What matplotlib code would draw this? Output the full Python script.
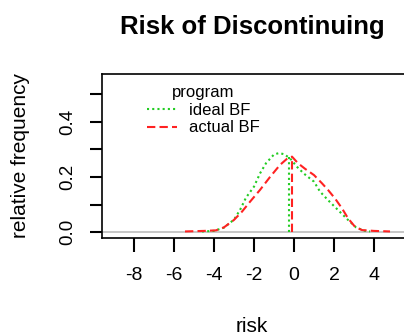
import numpy as np
import matplotlib
matplotlib.use("Agg")
import matplotlib.pyplot as plt

plt.rcParams['font.family'] = ['Liberation Sans', 'DejaVu Sans']
plt.rcParams['axes.unicode_minus'] = False

# frequency polygons
ideal_x = [-4.6, -4.0, -3.5, -3.0, -2.7, -2.4, -2.0, -1.7, -1.4, -1.0, -0.75, -0.5,
           -0.2, 0.15, 0.5, 1.0, 1.3, 1.7, 2.2, 2.7, 3.1, 3.5, 3.8]
ideal_y = [0.002, 0.004, 0.016, 0.045, 0.080, 0.125, 0.165, 0.213, 0.250, 0.282, 0.287, 0.283,
           0.268, 0.237, 0.212, 0.183, 0.147, 0.116, 0.080, 0.044, 0.017, 0.005, 0.002]

actual_x = [-5.45, -4.5, -3.9, -3.5, -3.0, -2.6, -2.2, -1.7, -1.2, -0.7, -0.37, -0.1,
            0.2, 0.55, 1.0, 1.4, 1.7, 2.05, 2.4, 2.7, 3.05, 3.4, 4.0, 4.8]
actual_y = [0.002, 0.004, 0.006, 0.017, 0.044, 0.074, 0.110, 0.153, 0.200, 0.244, 0.265, 0.274,
            0.250, 0.230, 0.207, 0.177, 0.153, 0.122, 0.086, 0.050, 0.019, 0.007, 0.004, 0.002]

# mean lines: (x, height)
ideal_mean = (-0.25, 0.278)
actual_mean = (-0.1, 0.274)

xticks = [-8, -6, -4, -2, 0, 2, 4]
yticks = [0.0, 0.1, 0.2, 0.3, 0.4, 0.5]
ylabels = ['0.0', '', '0.2', '', '0.4', '']

green = '#22cc22'
red = '#ff2222'

fig = plt.figure(figsize=(4.04, 3.36), dpi=100)
ax = fig.add_axes([102/404, 98/336, 322/404, 164/336])

ax.axhline(0, color='#bebebe', lw=1.2, zorder=1)
ax.plot(ideal_x, ideal_y, color=green, lw=1.5, dashes=(1, 1.5), label='ideal BF')
ax.plot(actual_x, actual_y, color=red, lw=1.5, dashes=(4, 2), label='actual BF')
ax.vlines(ideal_mean[0], 0, ideal_mean[1], color=green, lw=1.5, linestyles=(0, (1, 1.5)))
ax.vlines(actual_mean[0], 0, actual_mean[1], color=red, lw=1.5, linestyles=(0, (4, 2)))

ax.set_xlim(-9.6, 6.5)
ax.set_ylim(-0.0218, 0.5745)

ax.set_xticks(xticks)
ax.set_xticklabels([str(v) for v in xticks], fontsize=14)
ax.set_yticks(yticks)
ax.set_yticklabels(ylabels, fontsize=13.5, rotation=90, va='center')
ax.tick_params(axis='x', direction='out', length=10, width=1.5, pad=11)
ax.tick_params(axis='y', direction='out', length=8.6, width=1.5, pad=10)
for s in ax.spines.values():
    s.set_linewidth(1.2)

leg = ax.legend(title='program', frameon=False, loc='upper left',
                bbox_to_anchor=(0.14, 0.93), fontsize=12, title_fontsize=12,
                handlelength=1.8, handletextpad=0.7, labelspacing=0.15,
                borderpad=0, borderaxespad=0)

fig.text(252/404, 1 - 27/336, 'Risk of Discontinuing', fontsize=18.5,
         fontweight='bold', ha='center', va='center')
fig.text(252/404, 1 - 327/336, 'risk', fontsize=15, ha='center', va='center')
fig.text(21/404, 1 - 156/336, 'relative frequency', fontsize=15,
         rotation=90, ha='center', va='center')

plt.savefig('out.png', dpi=100)
